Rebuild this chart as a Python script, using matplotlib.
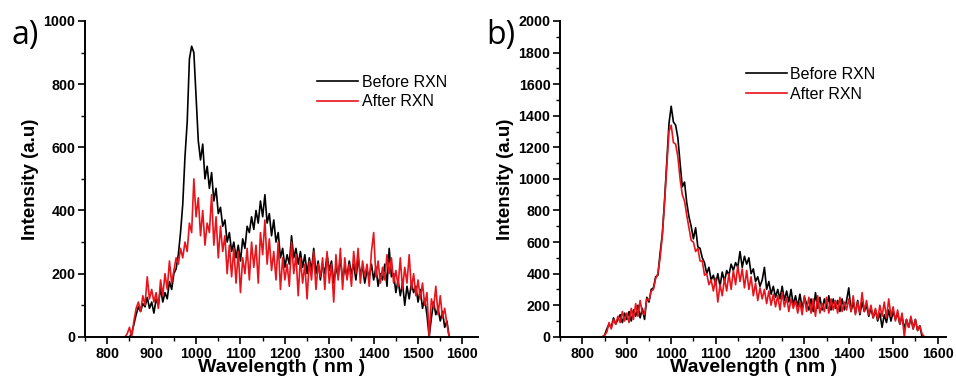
import numpy as np
import matplotlib
matplotlib.use("Agg")
import matplotlib.pyplot as plt
from matplotlib.ticker import MultipleLocator

plt.rcParams['font.family'] = ['Liberation Sans', 'DejaVu Sans']

# wavelength grid (nm), 840..1570 every 5 nm
wavelength = np.arange(840, 1571, 5)

# panel a) intensities
a_before = [0, 0, 0, 10, 40, 70, 95, 80, 105, 95, 125, 90, 110, 75, 120, 100, 155, 110, 140, 120,
            175, 150, 200, 215, 260, 330, 420, 570, 680, 880, 920, 900, 760, 620, 560, 610, 500, 540, 470, 520,
            430, 470, 390, 410, 350, 370, 300, 330, 270, 300, 250, 290, 240, 310, 280, 350, 330, 380, 340, 400,
            360, 430, 380, 450, 360, 390, 320, 370, 300, 330, 250, 280, 220, 260, 230, 320, 250, 280, 230, 270,
            220, 260, 200, 250, 210, 280, 200, 240, 180, 230, 200, 260, 210, 240, 170, 220, 190, 250, 180, 220,
            190, 240, 200, 230, 180, 250, 200, 220, 170, 210, 190, 230, 180, 220, 160, 200, 180, 230, 160, 280,
            190, 200, 140, 180, 130, 170, 100, 160, 120, 170, 140, 160, 110, 150, 90, 120, 70, 0, 60, 110,
            70, 90, 50, 80, 30, 50, 0]
a_after = [0, 10, 30, 0, 50, 90, 110, 80, 130, 100, 190, 120, 150, 110, 140, 90, 180, 130, 200, 150,
           240, 170, 210, 250, 230, 280, 250, 300, 270, 360, 330, 500, 380, 440, 320, 400, 290, 360, 330, 450,
           290, 380, 250, 350, 270, 320, 200, 290, 190, 280, 170, 270, 140, 250, 200, 280, 180, 300, 220, 290,
           170, 330, 260, 370, 230, 310, 210, 270, 180, 300, 150, 250, 180, 230, 160, 300, 200, 260, 130, 250,
           170, 230, 120, 240, 180, 270, 150, 230, 190, 250, 150, 270, 170, 230, 110, 260, 180, 280, 150, 250,
           180, 230, 160, 270, 200, 280, 170, 240, 190, 230, 160, 270, 330, 190, 240, 170, 220, 180, 260, 200,
           250, 170, 210, 160, 250, 150, 220, 170, 260, 150, 200, 130, 180, 120, 170, 100, 140, 0, 120, 90,
           160, 70, 130, 60, 90, 40, 0]

# panel b)
b_before = [0, 0, 10, 50, 80, 60, 120, 80, 110, 140, 90, 150, 110, 160, 100, 170, 130, 200, 120, 180,
            110, 250, 220, 300, 310, 380, 390, 530, 650, 860, 1100, 1350, 1460, 1360, 1340, 1260, 1100, 950, 980, 850,
            760, 700, 620, 690, 570, 560, 500, 470, 400, 440, 360, 390, 330, 400, 320, 410, 350, 420, 390, 460,
            420, 470, 440, 540, 440, 510, 460, 500, 400, 430, 350, 380, 320, 360, 440, 300, 350, 270, 320, 250,
            300, 240, 320, 230, 290, 220, 300, 200, 260, 190, 270, 180, 250, 210, 170, 240, 160, 280, 180, 250,
            170, 240, 180, 260, 170, 240, 180, 230, 160, 240, 170, 230, 310, 160, 220, 150, 230, 140, 220, 160,
            200, 130, 180, 120, 170, 100, 150, 60, 140, 90, 170, 100, 160, 110, 150, 80, 130, 50, 110, 60,
            120, 50, 110, 40, 70, 0, 0]
b_after = [0, 0, 10, 30, 90, 50, 110, 80, 130, 90, 160, 100, 150, 90, 180, 110, 210, 130, 230, 150,
           140, 240, 230, 290, 300, 370, 400, 500, 640, 850, 1080, 1300, 1340, 1230, 1220, 1140, 1000, 900, 860, 770,
           690, 610, 600, 540, 560, 480, 480, 390, 400, 330, 360, 290, 370, 220, 330, 260, 370, 290, 400, 300,
           420, 330, 450, 350, 430, 310, 420, 300, 380, 260, 340, 230, 310, 240, 300, 210, 290, 200, 270, 190,
           260, 170, 280, 190, 250, 160, 240, 180, 230, 150, 220, 140, 260, 160, 250, 150, 240, 130, 260, 150,
           210, 160, 250, 150, 240, 170, 230, 150, 250, 160, 220, 170, 240, 160, 260, 140, 220, 150, 280, 160,
           230, 140, 200, 120, 180, 110, 200, 130, 220, 120, 240, 130, 190, 100, 170, 80, 150, 0, 110, 60,
           130, 50, 110, 40, 70, 20, 0]

panels = [
    ("a)", a_before, a_after, 1000, [0.089, 0.116, 0.411, 0.829], (0.59, 0.83)),
    ("b)", b_before, b_after, 2000, [0.586, 0.116, 0.404, 0.829], (0.48, 0.855)),
]

fig = plt.figure(figsize=(9.56, 3.81), dpi=100)

for tag, before, after, ymax, rect, leg_pos in panels:
    ax = fig.add_axes(rect)
    ax.plot(wavelength, before, color="black", lw=1.2, label="Before RXN")
    ax.plot(wavelength, after, color="#e8141b", lw=1.2, label="After RXN")
    ax.set_xlim(750, 1635 if tag == "a)" else 1620)
    ax.set_ylim(0, ymax)
    ax.xaxis.set_major_locator(MultipleLocator(100))
    ax.xaxis.set_minor_locator(MultipleLocator(50))
    ax.yaxis.set_major_locator(MultipleLocator(200))
    ax.yaxis.set_minor_locator(MultipleLocator(100))
    ax.spines["top"].set_visible(False)
    ax.spines["right"].set_visible(False)
    for s in ("left", "bottom"):
        ax.spines[s].set_linewidth(1.4)
    ax.tick_params(which="major", direction="out", length=5, width=1.2, labelsize=10.3, pad=2)
    ax.tick_params(which="minor", direction="out", length=3, width=1.0)
    for lab in ax.get_xticklabels() + ax.get_yticklabels():
        lab.set_fontweight("bold")
    ax.set_xlabel("Wavelength ( nm )", fontsize=14, fontweight="bold", labelpad=-1)
    ax.set_ylabel("Intensity (a.u)", fontsize=13.5, fontweight="bold", labelpad=3)
    ax.legend(loc="upper left", bbox_to_anchor=leg_pos, frameon=False, fontsize=11.5,
              handlelength=2.6, handletextpad=0.2, borderpad=0, borderaxespad=0, labelspacing=0.3)
    fig.text(rect[0] - 0.077, 0.885, tag, fontsize=23, family="Open Sans")

fig.savefig("out.png", dpi=100)
